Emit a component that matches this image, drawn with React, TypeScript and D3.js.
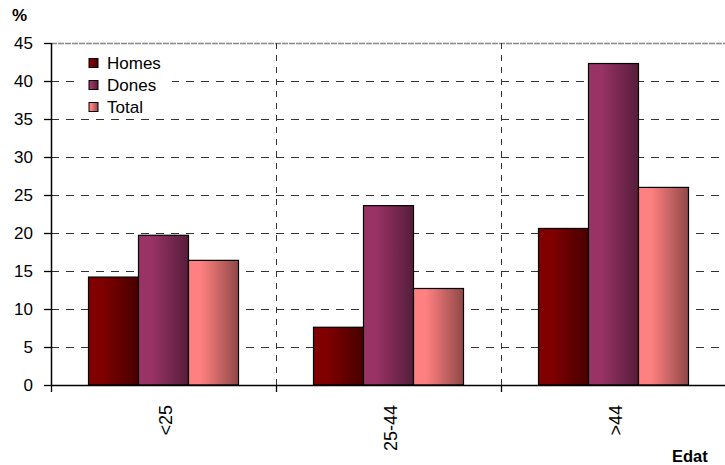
import React from "react";
import * as d3 from "d3";

const categories = ["<25", "25-44", ">44"];
const seriesNames = ["Homes", "Dones", "Total"];
const homes = [14.2, 7.6, 20.6];
const dones = [19.7, 23.6, 42.3];
const total = [16.4, 12.7, 26.0];
const yTicks = [0, 5, 10, 15, 20, 25, 30, 35, 40, 45];

const seriesValues = [homes, dones, total];
const baseColors = ["#800000", "#993366", "#ff8080"];

export default function App() {
  const W = 725;
  const H = 465;
  const left = 51;
  const right = 726;
  const top = 43;
  const bottom = 385;

  const x0 = d3.scaleBand<string>().domain(categories).range([left, right]);
  const bw = x0.bandwidth();
  const x1 = d3
    .scaleBand<string>()
    .domain(seriesNames)
    .range([bw / 6, (bw * 5) / 6]);
  const y = d3.scaleLinear().domain([0, 45]).range([bottom, top]);

  const font = "'Liberation Sans', Arial, sans-serif";

  return (
    <svg
      width={W}
      height={H}
      style={{ position: "absolute", left: 0, top: 0, background: "#fff" }}
      fontFamily={font}
    >
      <defs>
        {baseColors.map((c, i) => {
          const dark = d3.color(c)!.darker(1.6).formatHex();
          return (
            <linearGradient id={`g${i}`} key={i} x1="0" x2="1" y1="0" y2="0">
              <stop offset="0%" stopColor={c} />
              <stop offset="25%" stopColor={c} />
              <stop offset="100%" stopColor={dark} />
            </linearGradient>
          );
        })}
      </defs>

      {/* top border */}
      <line x1={left} x2={W} y1={top + 0.5} y2={top + 0.5} stroke="#888" strokeWidth={1.5} strokeDasharray="6 1" />

      {/* horizontal gridlines */}
      {yTicks
        .filter((t) => t !== 0 && t !== 45)
        .map((t) => (
          <line
            key={t}
            x1={left}
            x2={W}
            y1={Math.round(y(t)) + 0.5}
            y2={Math.round(y(t)) + 0.5}
            stroke="#333"
            strokeDasharray="8 7"
          />
        ))}

      {/* vertical gridlines */}
      {categories.slice(1).map((c) => (
        <line
          key={c}
          x1={Math.round(x0(c)!) + 0.5}
          x2={Math.round(x0(c)!) + 0.5}
          y1={top}
          y2={bottom}
          stroke="#333"
          strokeDasharray="6 6"
        />
      ))}

      {/* legend background */}
      <rect x={77} y={50} width={95} height={67} fill="#fff" />

      {/* bars */}
      {categories.map((c, ci) =>
        seriesNames.map((s, si) => {
          const v = seriesValues[si][ci];
          const bx = x0(c)! + x1(s)!;
          return (
            <rect
              key={c + s}
              x={bx}
              y={y(v)}
              width={x1.bandwidth()}
              height={bottom - y(v)}
              fill={`url(#g${si})`}
              stroke="#000"
              strokeWidth={1.2}
            />
          );
        })
      )}

      {/* y axis */}
      <line x1={left + 0.5} x2={left + 0.5} y1={top} y2={bottom} stroke="#000" strokeWidth={1.5} />
      {yTicks.map((t) => (
        <g key={t}>
          <line x1={44} x2={left} y1={Math.round(y(t)) + 0.5} y2={Math.round(y(t)) + 0.5} stroke="#000" strokeWidth={1.3} />
          <text x={33} y={y(t)} dy="0.36em" textAnchor="end" fontSize={17} fill="#000">
            {t}
          </text>
        </g>
      ))}

      {/* x axis */}
      <line x1={left} x2={W} y1={bottom + 0.5} y2={bottom + 0.5} stroke="#000" strokeWidth={1.5} />
      {categories.map((c) => (
        <line
          key={c}
          x1={Math.round(x0(c)!) + 0.5}
          x2={Math.round(x0(c)!) + 0.5}
          y1={bottom}
          y2={bottom + 7}
          stroke="#000"
          strokeWidth={1.3}
        />
      ))}
      {categories.map((c) => (
        <text
          key={c}
          transform={`translate(${x0(c)! + bw / 2 + 8},${bottom + 20}) rotate(-90)`}
          textAnchor="end"
          fontSize={18}
          fill="#000"
        >
          {c}
        </text>
      ))}

      {/* legend */}
      {seriesNames.map((s, i) => (
        <g key={s} transform={`translate(89,${63 + i * 22})`}>
          <rect x={0} y={-4.5} width={9} height={9} fill={`url(#g${i})`} stroke="#000" strokeWidth={1} />
          <text x={18} y={0} dy="0.36em" fontSize={17} fill="#000">
            {s}
          </text>
        </g>
      ))}

      {/* axis titles */}
      <text x={12} y={21} fontSize={17} fontWeight="bold" fill="#000">
        %
      </text>
      <text x={672} y={462} fontSize={16.5} fontWeight="bold" fill="#000">
        Edat
      </text>
    </svg>
  );
}
